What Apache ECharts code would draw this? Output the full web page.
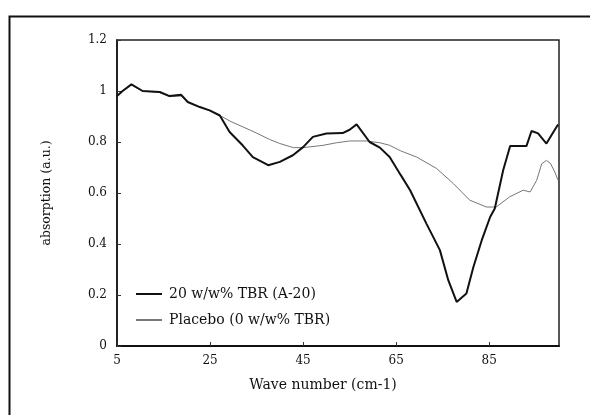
<!DOCTYPE html>
<html>
<head>
<meta charset="utf-8">
<script src="https://cdn.jsdelivr.net/npm/echarts@6/dist/echarts.min.js"></script>
<style>html,body{margin:0;padding:0;background:#fff;}#c{width:590px;height:415px;}</style>
</head>
<body>
<div id="c"></div>
<script>
var seriesNames = ['20 w/w% TBR (A-20)', 'Placebo (0 w/w% TBR)'];
var xTitle = 'Wave number (cm-1)';
var yTitle = 'absorption (a.u.)';

var waveA20 = [5, 5.6, 6.2, 8.1, 10.5, 14.2, 16.3, 18.8, 20.2, 22.8, 24.9, 27.1, 29.2, 32, 34.2, 37.5, 40, 42.8, 45, 47.1, 50, 53.5, 55, 56.5, 59.3, 61.5, 63.6, 66, 68, 71.5, 74.4, 76.2, 78, 80.1, 81.6, 83.4, 85.2, 86.2, 88, 89.5, 93, 94.1, 95.5, 97.3, 98.8, 99.8];
var absA20 = [0.98, 0.99, 1.0, 1.026, 1.0, 0.996, 0.98, 0.985, 0.957, 0.937, 0.924, 0.904, 0.839, 0.787, 0.741, 0.709, 0.722, 0.748, 0.78, 0.82, 0.833, 0.835, 0.848, 0.869, 0.80, 0.778, 0.741, 0.67, 0.611, 0.48, 0.376, 0.258, 0.173, 0.206, 0.31, 0.415, 0.506, 0.539, 0.689, 0.784, 0.784, 0.843, 0.834, 0.794, 0.839, 0.869];

var wavePlacebo = [5, 5.6, 6.2, 8.1, 10.5, 14.2, 16.3, 18.8, 20.2, 22.8, 24.9, 27.1, 29.5, 32.1, 35, 37.8, 40, 42.9, 45, 49.3, 52.2, 55, 58.6, 61.5, 63.6, 66, 69.4, 73.7, 77.3, 80.8, 84.4, 86.5, 89.4, 92.3, 93.8, 95.2, 96.3, 97.3, 98.2, 99.1, 99.8];
var absPlacebo = [0.98, 0.99, 1.0, 1.024, 1.0, 0.994, 0.978, 0.98, 0.957, 0.937, 0.924, 0.904, 0.88, 0.859, 0.835, 0.81, 0.794, 0.778, 0.778, 0.787, 0.797, 0.804, 0.804, 0.797, 0.787, 0.765, 0.741, 0.696, 0.637, 0.572, 0.545, 0.545, 0.585, 0.611, 0.604, 0.65, 0.715, 0.728, 0.715, 0.682, 0.65];

function pairs(xs, ys) { return xs.map(function (x, i) { return [x, ys[i]]; }); }

var font = 'DejaVu Serif';
var chart = echarts.init(document.getElementById('c'), null, {renderer: 'canvas'});
chart.setOption({
  animation: false,
  backgroundColor: '#fff',
  textStyle: {fontFamily: font},
  graphic: [{
    type: 'rect', left: 7, top: 14, shape: {x: 0, y: 0, width: 600, height: 420},
    style: {fill: 'none', stroke: '#111', lineWidth: 2}, z: -1
  }],
  grid: {left: 117, top: 40, right: 31, bottom: 69, show: true, borderColor: '#222', borderWidth: 1.5, backgroundColor: 'transparent'},
  legend: {
    orient: 'vertical', left: 131, top: 282, itemGap: 12, itemWidth: 26, itemHeight: 2,
    icon: 'rect',
    textStyle: {fontFamily: font, fontSize: 14, color: '#111', padding: [0, 0, 0, 2]},
    data: [
      {name: seriesNames[0], itemStyle: {color: '#111'}},
      {name: seriesNames[1], itemStyle: {color: '#777'}}
    ]
  },
  xAxis: {
    type: 'value', min: 5, max: 100, interval: 20,
    name: xTitle, nameLocation: 'middle', nameGap: 32,
    nameTextStyle: {fontFamily: font, fontSize: 14, color: '#111', padding: [0, 30, 0, 0]},
    axisLine: {show: true, lineStyle: {color: '#111', width: 2}},
    axisTick: {show: true, inside: true, length: 4, lineStyle: {color: '#333'}},
    axisLabel: {fontFamily: font, fontSize: 12, color: '#111', margin: 9, showMaxLabel: false},
    splitLine: {show: false}
  },
  yAxis: {
    type: 'value', min: 0, max: 1.2, interval: 0.2,
    name: yTitle, nameLocation: 'middle', nameGap: 64,
    nameTextStyle: {fontFamily: font, fontSize: 12.5, color: '#111'},
    axisLine: {show: true, lineStyle: {color: '#111', width: 1.5}},
    axisTick: {show: true, inside: true, length: 4, lineStyle: {color: '#333'}},
    axisLabel: {fontFamily: font, fontSize: 12, color: '#111', margin: 10,
      formatter: function (v) { return String(Math.round(v * 10) / 10); }},
    splitLine: {show: false}
  },
  series: [
    {name: seriesNames[0], type: 'line', data: pairs(waveA20, absA20), showSymbol: false, symbol: 'none',
     lineStyle: {color: '#111', width: 2}, itemStyle: {color: '#111'}, z: 3},
    {name: seriesNames[1], type: 'line', data: pairs(wavePlacebo, absPlacebo), showSymbol: false, symbol: 'none',
     lineStyle: {color: '#777', width: 1}, itemStyle: {color: '#777'}, z: 2}
  ]
});
</script>
</body>
</html>
